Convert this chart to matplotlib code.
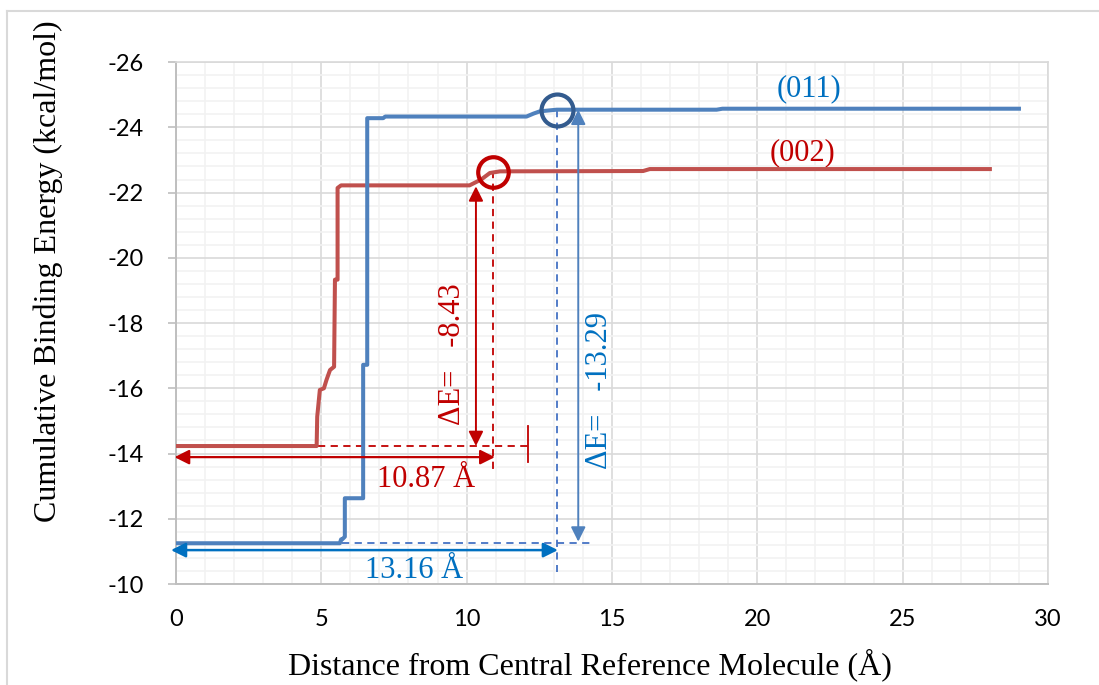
import matplotlib.pyplot as plt
from matplotlib.lines import Line2D
from matplotlib.ticker import MultipleLocator

plt.rcParams['axes.unicode_minus'] = False

# cumulative binding energy vs distance, (002) face
x_002 = [0, 4.84, 4.86, 4.95, 5.09, 5.18, 5.30, 5.44, 5.47, 5.56, 5.56, 5.68,
         10.1, 10.5, 10.8, 11.15, 16.07, 16.3, 28.0]
y_002 = [-14.23, -14.23, -15.13, -15.95, -16.0, -16.26, -16.56, -16.66, -19.33,
         -19.33, -22.14, -22.22, -22.22, -22.4, -22.6, -22.65, -22.66, -22.72, -22.72]

# (011) face
x_011 = [0, 5.64, 5.68, 5.72, 5.81, 5.81, 6.44, 6.44, 6.58, 6.58, 7.13, 7.2,
         12.06, 12.3, 12.52, 13.1, 18.6, 18.8, 29.0]
y_011 = [-11.25, -11.25, -11.37, -11.37, -11.45, -12.63, -12.63, -16.72, -16.72,
         -24.28, -24.28, -24.33, -24.33, -24.42, -24.49, -24.54, -24.54, -24.57, -24.57]

# cut-off distances and energies used for the annotations
cut_002, e_start_002, e_end_002, de_002 = 10.87, -14.23, -22.65, -8.43
cut_011, e_start_011, e_end_011, de_011 = 13.16, -11.25, -24.54, -13.29

x_ticks = [0, 5, 10, 15, 20, 25, 30]
y_ticks = [-26, -24, -22, -20, -18, -16, -14, -12, -10]

RED_LINE = '#C0504D'
BLUE_LINE = '#4F81BD'
RED = '#C00000'
BLUE = '#0070C0'
SERIF = 'Liberation Serif'

fig = plt.figure(figsize=(10.99, 6.85), dpi=100)
ax = fig.add_axes([0.1601, 0.1474, 0.7935, 0.7620])

ax.plot(x_002, y_002, color=RED_LINE, lw=2.9, solid_joinstyle='round', zorder=4)
ax.plot(x_011, y_011, color=BLUE_LINE, lw=2.9, solid_joinstyle='round', zorder=4)

ax.set_xlim(0, 30)
ax.set_ylim(-10, -26)
ax.set_xticks(x_ticks)
ax.set_yticks(y_ticks)
ax.xaxis.set_minor_locator(MultipleLocator(1))
ax.yaxis.set_minor_locator(MultipleLocator(0.4))
ax.grid(which='major', color='#D9D9D9', lw=1.2, zorder=0)
ax.grid(which='minor', color='#F2F2F2', lw=1.2, zorder=0)
ax.set_axisbelow(True)
for side in ['top', 'right']:
    ax.spines[side].set_color('#D9D9D9')
    ax.spines[side].set_linewidth(1.2)
for side in ['bottom', 'left']:
    ax.spines[side].set_color('#BFBFBF')
    ax.spines[side].set_linewidth(1.4)
ax.tick_params(which='minor', length=0)
ax.tick_params(axis='x', which='major', length=0, pad=18)
ax.tick_params(axis='y', which='major', length=6, color='#BFBFBF', width=1.2, pad=17)
for lab in ax.get_xticklabels() + ax.get_yticklabels():
    lab.set_fontfamily('Lato')
    lab.set_fontsize(17)
    lab.set_color('#000000')

ax.set_xlabel('Distance from Central Reference Molecule (Å)', fontfamily=SERIF,
              fontsize=23, va='center')
ax.set_ylabel('Cumulative Binding Energy (kcal/mol)', fontfamily=SERIF,
              fontsize=23, va='center')
ax.xaxis.set_label_coords(0.475, -0.155)
ax.yaxis.set_label_coords(-0.147, 0.60)

# (002) annotations
ax.plot([4.9, 12.1], [e_start_002, e_start_002], color=RED, lw=1.3, ls=(0, (4, 3)), zorder=3)
ax.plot([12.1, 12.1], [-14.83, -13.75], color=RED, lw=1.3, zorder=3)
ax.plot([cut_002 + 0.05, cut_002 + 0.05], [e_end_002, -13.5], color=RED, lw=1.3,
        ls=(0, (4, 3)), zorder=3)
ax.annotate('', xy=(10.32, -22.19), xytext=(10.32, e_start_002),
            arrowprops=dict(arrowstyle='<|-|>', color=RED, lw=1.4, mutation_scale=22,
                            shrinkA=0, shrinkB=0), zorder=5)
ax.annotate('', xy=(-0.05, -13.89), xytext=(cut_002 + 0.1, -13.89),
            arrowprops=dict(arrowstyle='<|-|>', color=RED, lw=1.6, mutation_scale=22,
                            shrinkA=0, shrinkB=0), zorder=5, annotation_clip=False)
ax.plot([cut_002 + 0.05], [e_end_002 + 0.03], marker='o', ms=22, mfc='none', mec=RED,
        mew=3, zorder=6)
ax.text(8.62, -13.19, f'{cut_002:.2f} Å', color=RED, fontfamily=SERIF, fontsize=22,
        ha='center', va='center')
ax.text(9.52, -17.05, f'ΔE=   {de_002:.2f}', color=RED, fontfamily=SERIF, fontsize=22,
        ha='center', va='center', rotation=90)
ax.text(21.57, -23.23, '(002)', color=RED, fontfamily=SERIF, fontsize=22,
        ha='center', va='center')

# (011) annotations
ax.plot([5.7, 14.24], [e_start_011, e_start_011], color='#4472C4', lw=1.3,
        ls=(0, (4, 3)), zorder=3)
ax.plot([cut_011 - 0.06, cut_011 - 0.06], [e_end_011, -10.38], color='#4472C4', lw=1.3,
        ls=(0, (4, 3)), zorder=3)
ax.annotate('', xy=(13.84, e_end_011), xytext=(13.84, -11.3),
            arrowprops=dict(arrowstyle='<|-|>', color=BLUE_LINE, lw=1.4, mutation_scale=22,
                            shrinkA=0, shrinkB=0), zorder=5)
ax.annotate('', xy=(-0.17, -11.04), xytext=(cut_011 - 0.02, -11.04),
            arrowprops=dict(arrowstyle='<|-|>', color=BLUE, lw=1.8, mutation_scale=22,
                            shrinkA=0, shrinkB=0), zorder=5, annotation_clip=False)
ax.plot([cut_011 - 0.06], [e_end_011], marker='o', ms=23, mfc='none', mec='#335B8E',
        mew=3, zorder=6)
ax.text(8.19, -10.43, f'{cut_011:.2f} Å', color=BLUE, fontfamily=SERIF, fontsize=22,
        ha='center', va='center')
ax.text(14.56, -15.93, f'ΔE=   {de_011:.2f}', color=BLUE, fontfamily=SERIF, fontsize=22,
        ha='center', va='center', rotation=90)
ax.text(21.78, -25.17, '(011)', color=BLUE, fontfamily=SERIF, fontsize=22,
        ha='center', va='center')

# chart frame (top and left edges only visible)
fig.add_artist(Line2D([0.0064, 1.0], [0.984, 0.984], transform=fig.transFigure,
                      color='#D9D9D9', lw=1.5))
fig.add_artist(Line2D([0.0064, 0.0064], [0.0, 0.984], transform=fig.transFigure,
                      color='#D9D9D9', lw=1.5))

fig.savefig('out.png', dpi=100)
